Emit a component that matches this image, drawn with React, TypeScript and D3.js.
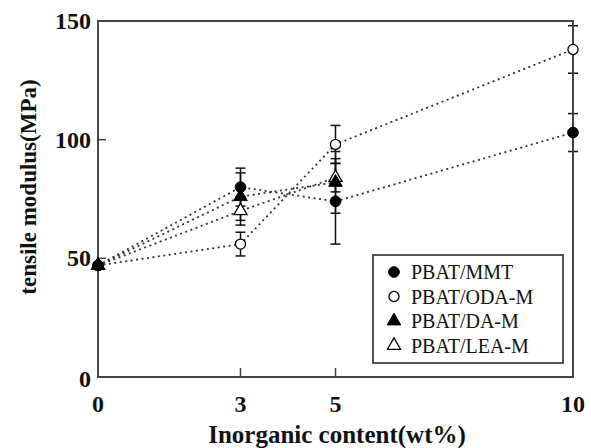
import React from 'react';
import { scaleLinear, line, symbol, symbolCircle, symbolTriangle } from 'd3';

// data
const contents = [0, 3, 5, 10];
const xTicks = [0, 3, 5, 10];
const yTicks = [0, 50, 100, 150];

const mmtValues = [47, 80, 74, 103];
const mmtErr = [1, 8, 18, 8];
const odaValues = [47, 56, 98, 138];
const odaErr = [1, 5, 8, 10];
const daValues = [47, 76, 82];
const daErr = [1, 10, 13];
const leaValues = [47, 70, 84];
const leaErr = [1, 6, 6];

const seriesNames = ['PBAT/MMT', 'PBAT/ODA-M', 'PBAT/DA-M', 'PBAT/LEA-M'];

const W = 591;
const H = 448;
const margin = { top: 21, right: 18, bottom: 71, left: 98 };

const serif = '"Liberation Serif", "Times New Roman", serif';
const textStyle = { fontFamily: serif };

const series = [
	{ name: seriesNames[0], values: mmtValues, err: mmtErr, shape: 'circle', filled: true },
	{ name: seriesNames[1], values: odaValues, err: odaErr, shape: 'circle', filled: false },
	{ name: seriesNames[2], values: daValues, err: daErr, shape: 'triangle', filled: true },
	{ name: seriesNames[3], values: leaValues, err: leaErr, shape: 'triangle', filled: false },
];

const Marker = ({ cx, cy, shape, filled }) => {
	const d =
		shape === 'circle'
			? symbol(symbolCircle, filled ? 90 : 80)()
			: symbol(symbolTriangle, filled ? 80 : 75)();
	return (
		<path
			d={d}
			transform={'translate(' + cx + ',' + cy + ')'}
			fill={filled ? '#000' : '#fff'}
			stroke="#000"
			strokeWidth={filled ? 1 : 1.3}
		/>
	);
};

const App = () => {
	const width = W - margin.left - margin.right;
	const height = H - margin.top - margin.bottom;

	const x = scaleLinear().domain([0, 10]).range([margin.left, margin.left + width]);
	const y = scaleLinear().domain([0, 150]).range([margin.top + height, margin.top]);

	const path = line()
		.x((d) => x(d[0]))
		.y((d) => y(d[1]));

	const legendX = 373;
	const legendY = 255;

	return (
		<svg
			width={W}
			height={H}
			style={{ position: 'absolute', left: 0, top: 0, background: '#fff' }}
		>
			{/* dotted lines */}
			{series.map((s) => (
				<path
					key={'l' + s.name}
					d={path(s.values.map((v, i) => [contents[i], v]))}
					fill="none"
					stroke="#333"
					strokeWidth={1.8}
					strokeDasharray="2,3.5"
				/>
			))}

			{/* error bars */}
			{series.map((s) =>
				s.values.map((v, i) => {
					const cx = x(contents[i]);
					const top = y(v + s.err[i]);
					const bot = y(v - s.err[i]);
					return (
						<g key={'e' + s.name + i} stroke="#111" strokeWidth={1.5}>
							<line x1={cx} x2={cx} y1={top} y2={bot} />
							<line x1={cx - 5} x2={cx + 5} y1={top} y2={top} />
							<line x1={cx - 5} x2={cx + 5} y1={bot} y2={bot} />
						</g>
					);
				})
			)}

			{/* frame */}
			<rect
				x={margin.left}
				y={margin.top}
				width={width}
				height={height}
				fill="none"
				stroke="#444"
				strokeWidth={2}
			/>

			{/* inner ticks */}
			{yTicks
				.filter((t) => t > 0 && t < 150)
				.map((t) => (
					<line
						key={'yt' + t}
						x1={margin.left}
						x2={margin.left + 8}
						y1={y(t)}
						y2={y(t)}
						stroke="#444"
						strokeWidth={1.5}
					/>
				))}
			{xTicks
				.filter((t) => t > 0 && t < 10)
				.map((t) => (
					<line
						key={'xt' + t}
						x1={x(t)}
						x2={x(t)}
						y1={y(0)}
						y2={y(0) - 9}
						stroke="#444"
						strokeWidth={1.5}
					/>
				))}

			{/* markers */}
			{series
				.slice()
				.reverse()
				.map((s) =>
					s.values.map((v, i) => (
						<Marker
							key={'m' + s.name + i}
							cx={x(contents[i])}
							cy={y(v)}
							shape={s.shape}
							filled={s.filled}
						/>
					))
				)}

			{/* tick labels */}
			{yTicks.map((t) => (
				<text
					key={'yl' + t}
					x={margin.left - 7}
					y={y(t) + (t === 0 ? 2 : 0)}
					textAnchor="end"
					dominantBaseline="central"
					style={textStyle}
					fontWeight="bold"
					fontSize={24}
					fill="#111"
				>
					{t}
				</text>
			))}
			{xTicks.map((t) => (
				<text
					key={'xl' + t}
					x={x(t)}
					y={412}
					textAnchor="middle"
					style={textStyle}
					fontWeight="bold"
					fontSize={24}
					fill="#111"
				>
					{t}
				</text>
			))}

			{/* axis titles */}
			<text
				x={337}
				y={443}
				textAnchor="middle"
				style={textStyle}
				fontWeight="bold"
				fontSize={25}
				fill="#111"
			>
				Inorganic content(wt%)
			</text>
			<text
				transform={'translate(36,187) rotate(-90)'}
				textAnchor="middle"
				style={textStyle}
				fontWeight="bold"
				fontSize={23}
				fill="#111"
			>
				tensile modulus(MPa)
			</text>

			{/* legend */}
			<rect
				x={legendX}
				y={legendY}
				width={190}
				height={108}
				fill="#fff"
				stroke="#444"
				strokeWidth={1.8}
			/>
			{series.map((s, i) => (
				<g key={'lg' + s.name}>
					<Marker
						cx={legendX + 21}
						cy={legendY + 17 + i * 24.5}
						shape={s.shape}
						filled={s.filled}
					/>
					<text
						x={legendX + 38}
						y={legendY + 17 + i * 24.5}
						dominantBaseline="central"
						style={textStyle}
						fontSize={20}
						fill="#111"
					>
						{s.name}
					</text>
				</g>
			))}
		</svg>
	);
};

export default App;
